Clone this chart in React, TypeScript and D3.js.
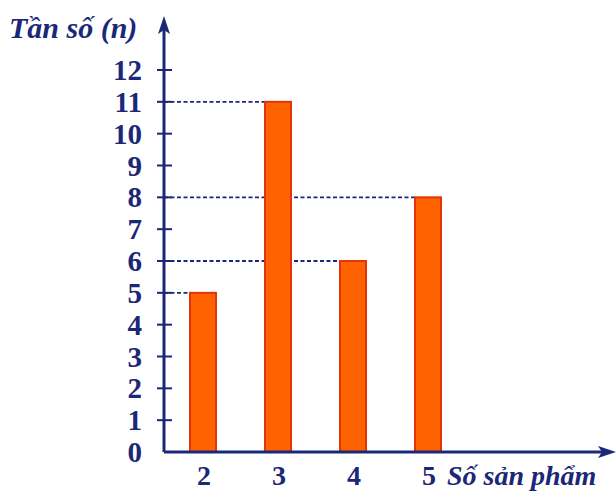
import React, { useEffect } from 'react';
import * as d3 from 'd3';

// chart data
const products = [2, 3, 4, 5];
const frequencies = [5, 11, 6, 8];
const yTicks = [0, 1, 2, 3, 4, 5, 6, 7, 8, 9, 10, 11, 12];

const W = 616;
const H = 493;
const navy = '#1b2878';
const serif = "'Liberation Serif', 'DejaVu Serif', 'Times New Roman', serif";

const App: React.FC = () => {
  useEffect(() => {
    document.body.style.margin = '0';
  }, []);

  const axisX = 164;
  const axisY = 452;
  const y = d3.scaleLinear().domain([0, 12]).range([axisY, 70]);
  const x = d3.scaleLinear().domain([2, 5]).range([203, 428]);
  const barW = 26;
  const label = { fontFamily: serif, fontWeight: 'bold' as const, fill: navy };

  return (
    <svg width={W} height={H} style={{ display: 'block', background: '#fff' }}>
      {/* dashed guide lines from the axis to each bar top */}
      {products.map((p, i) => (
        <line
          key={'g' + p}
          x1={axisX}
          x2={x(p) - barW / 2}
          y1={y(frequencies[i])}
          y2={y(frequencies[i])}
          stroke={navy}
          strokeWidth={1.8}
          strokeDasharray="4 2.5"
        />
      ))}

      {/* bars */}
      {products.map((p, i) => (
        <rect
          key={'b' + p}
          x={x(p) - barW / 2}
          y={y(frequencies[i])}
          width={barW}
          height={axisY - y(frequencies[i])}
          fill="#ff6200"
          stroke="#e3340c"
          strokeWidth={2}
        />
      ))}

      {/* axes with arrow heads */}
      <line x1={axisX} x2={axisX} y1={axisY} y2={26} stroke={navy} strokeWidth={3} />
      <path d={`M${axisX},16 L${axisX + 6},34 L${axisX},30 L${axisX - 6},34 Z`} fill={navy} />
      <line x1={axisX} x2={606} y1={axisY} y2={axisY} stroke={navy} strokeWidth={3} />
      <path d={`M616,${axisY} L598,${axisY - 6} L602,${axisY} L598,${axisY + 6} Z`} fill={navy} />

      {/* y ticks and labels */}
      {yTicks.map(t => (
        <g key={'t' + t}>
          {t > 0 && (
            <line x1={axisX - 7} x2={axisX + 8} y1={y(t)} y2={y(t)} stroke={navy} strokeWidth={2} />
          )}
          <text x={142} y={y(t)} dy="0.35em" textAnchor="end" fontSize={29} style={label}>
            {t}
          </text>
        </g>
      ))}

      {/* x labels */}
      {products.map(p => (
        <text key={'x' + p} x={x(p) + 1} y={485} textAnchor="middle" fontSize={28} style={label}>
          {p}
        </text>
      ))}

      <text x={9} y={38} fontSize={30} fontStyle="italic" style={label}>
        Tần số (n)
      </text>
      <text x={447} y={485} fontSize={28} fontStyle="italic" style={label}>
        Số sản phẩm
      </text>
    </svg>
  );
};

export default App;
